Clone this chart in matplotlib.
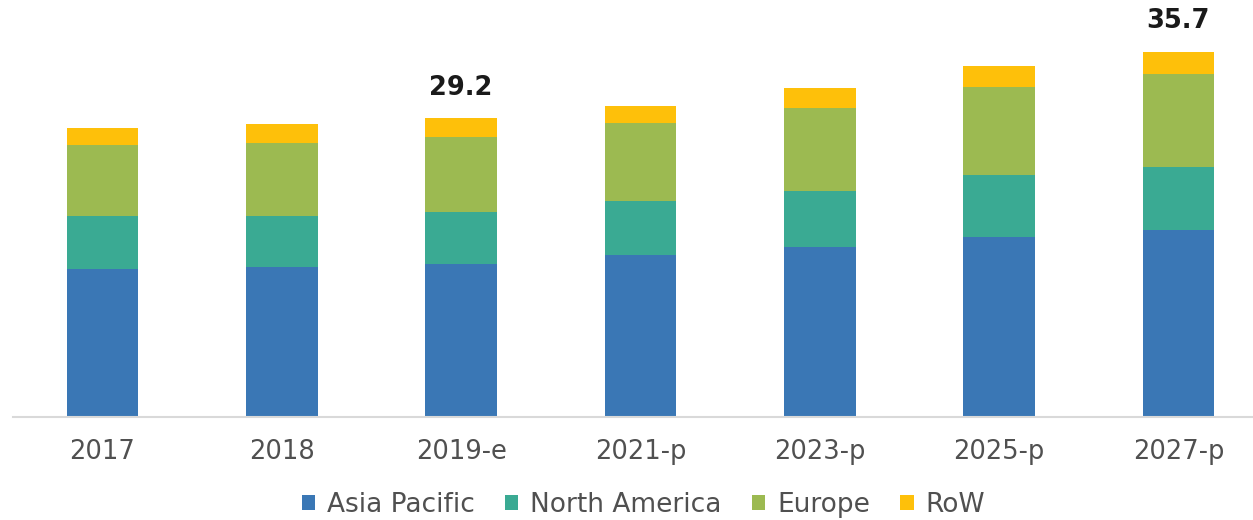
import matplotlib
matplotlib.use("Agg")
import matplotlib.pyplot as plt
from matplotlib.patches import Patch

categories = ["2017", "2018", "2019-e", "2021-p", "2023-p", "2025-p", "2027-p"]
asia_pacific = [14.5, 14.7, 15.0, 15.8, 16.6, 17.6, 18.3]
north_america = [5.1, 4.9, 5.0, 5.3, 5.5, 6.1, 6.1]
europe = [7.0, 7.2, 7.4, 7.6, 8.1, 8.6, 9.1]
row = [1.6, 1.8, 1.8, 1.7, 2.0, 2.0, 2.2]
series_names = ["Asia Pacific", "North America", "Europe", "RoW"]
annotations = {2: "29.2", 6: "35.7"}

colors = ["#3a77b5", "#3aaa93", "#9cba51", "#fec00a"]

plt.rcParams['font.family'] = ['DejaVu Sans']

fig = plt.figure(figsize=(12.53, 5.2), dpi=100)
ax = fig.add_axes([0, 103/520, 1, 417/520])

x = list(range(len(categories)))
bottom = [0.0] * len(categories)
for vals, c in zip([asia_pacific, north_america, europe, row], colors):
    ax.bar(x, vals, width=0.4, bottom=bottom, color=c, edgecolor='none')
    bottom = [b + v for b, v in zip(bottom, vals)]

for i, txt in annotations.items():
    ax.text(i, bottom[i] + 3.0, txt, ha='center', va='center',
            fontsize=18.5, color='#1a1a1a', fontweight='bold')

ax.set_xlim(-0.5716, 6.416)
ax.set_ylim(0, 40.76)
for s in ['top', 'right', 'left']:
    ax.spines[s].set_visible(False)
ax.spines['bottom'].set_color('#d9d9d9')
ax.spines['bottom'].set_linewidth(1.5)
ax.spines['bottom'].set_bounds(-0.5, 6.416)
ax.set_yticks([])
ax.set_xticks(x)
ax.set_xticklabels(categories, fontsize=18.5, color='#505050')
ax.tick_params(axis='x', length=0, pad=16)

handles = [Patch(facecolor=c, edgecolor='none') for c in colors]
fig.legend(handles, series_names, loc='center left', bbox_to_anchor=(302/1253, 15/520),
           ncol=4, frameon=False, fontsize=19, handlelength=0.5, handleheight=0.5,
           handletextpad=0.45, columnspacing=1.15, labelcolor='#505050',
           borderpad=0, borderaxespad=0)

fig.savefig("out.png", dpi=100)
